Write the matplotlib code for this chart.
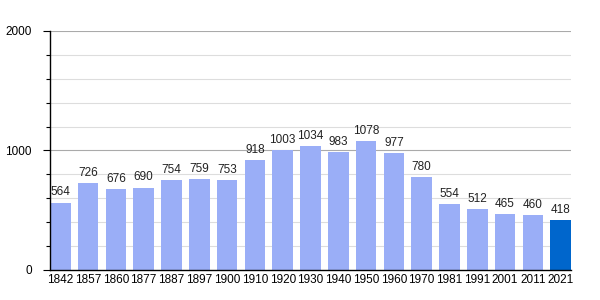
import matplotlib
matplotlib.use('Agg')
import matplotlib.pyplot as plt
import numpy as np

plt.rcParams['font.family'] = ['Liberation Sans', 'DejaVu Sans']

# population by census year
years = ['1842', '1857', '1860', '1877', '1887', '1897', '1900', '1910', '1920',
         '1930', '1940', '1950', '1960', '1970', '1981', '1991', '2001', '2011', '2021']
pop = [564, 726, 676, 690, 754, 759, 753, 918, 1003,
       1034, 983, 1078, 977, 780, 554, 512, 465, 460, 418]

fig = plt.figure(figsize=(6, 3), dpi=100)
ax = fig.add_axes([50/600, 0.1, 521/600, 0.797])

x = np.arange(len(years))
w = 0.74
colors = ['#9aaef7'] * (len(years) - 1) + ['#0066cc']
ax.bar(x, pop, width=w, color=colors, zorder=2)
for xi, v in zip(x, pop):
    ax.text(xi, v + 35, str(v), ha='center', va='bottom', fontsize=8.5, color='#222222', zorder=3)

ax.set_xlim(-w/2, len(years) - 1 + w/2)
ax.set_ylim(0, 2000)
ax.set_xticks(x)
ax.set_xticklabels(years, fontsize=8.5)
ax.set_yticks([0, 1000, 2000])
ax.set_yticklabels(['0', '1000', '2000'], fontsize=8.5)
ax.set_yticks(np.arange(0, 2001, 200), minor=True)
ax.tick_params(axis='x', length=0, pad=3)
ax.tick_params(axis='y', which='major', length=5, width=0.8, pad=8)
ax.tick_params(axis='y', which='minor', length=3, width=0.8)

for yv in np.arange(200, 2001, 200):
    if yv % 1000 == 0:
        ax.axhline(yv, color='#aaaaaa', lw=0.8, zorder=1)
    else:
        ax.axhline(yv, color='#dddddd', lw=0.8, zorder=1)

for s in ['top', 'right']:
    ax.spines[s].set_visible(False)
ax.spines['left'].set_linewidth(1)
ax.spines['bottom'].set_linewidth(1)

fig.savefig('out.png', dpi=100)
